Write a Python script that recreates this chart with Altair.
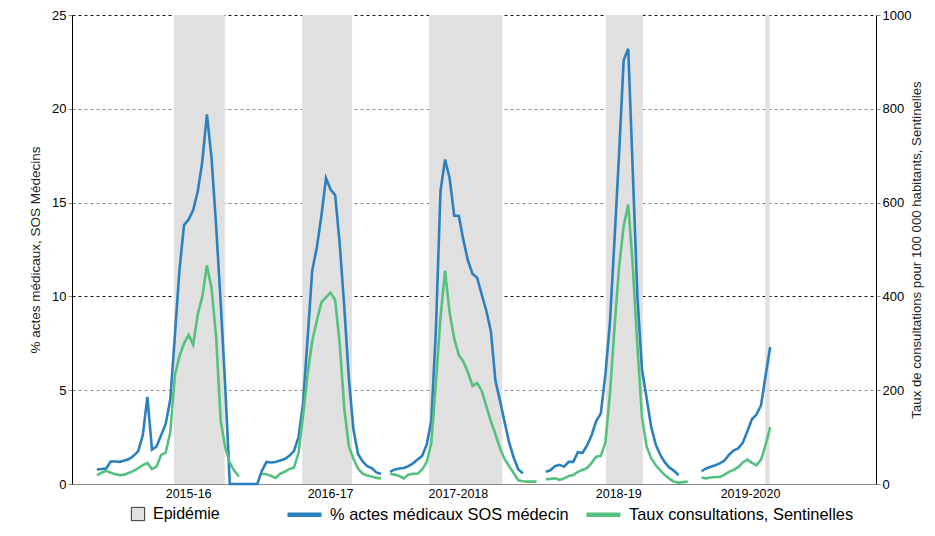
import altair as alt
import pandas as pd

# ---- data (weekly index, one unit = one week) ----
season_labels = ["2015-16", "2016-17", "2017-2018", "2018-19", "2019-2020"]
season_label_week = [19.9, 50.9, 78.8, 113.8, 142.6]

epidemic_start = [16.8, 44.8, 72.5, 111.1, 145.9]
epidemic_end = [27.9, 55.7, 88.5, 119.2, 146.9]

season_first_week = [0, 36, 64, 98, 132]
sos_segment = [0, 0, 1, 2, 3]  # 2015-16 and 2016-17 SOS series are joined by zero weeks

sos_2015_16 = [0.78, 0.80, 0.83, 1.20, 1.20, 1.18, 1.25, 1.33, 1.50, 1.75, 2.60, 4.64,
               1.83, 2.00, 2.60, 3.20, 4.50, 7.90, 11.4, 13.8, 14.1, 14.6, 15.6, 17.2,
               19.7, 17.4, 13.8, 9.7, 5.2, 0, 0, 0, 0, 0, 0, 0]
sos_2016_17 = [0.7, 1.18, 1.15, 1.17, 1.25, 1.33, 1.5, 1.75, 2.5, 4.3, 7.8, 11.4, 12.6,
               14.3, 16.3, 15.7, 15.4, 12.8, 9.4, 5.6, 2.9, 1.6, 1.2, 0.95, 0.85, 0.62, 0.53]
sos_2017_18 = [0.65, 0.78, 0.83, 0.85, 0.95, 1.1, 1.3, 1.5, 2.1, 3.4, 8.2, 15.6, 17.3,
               16.3, 14.3, 14.3, 13.0, 11.9, 11.2, 11.0, 10.1, 9.25, 8.15, 5.5, 4.43,
               3.3, 2.2, 1.4, 0.78, 0.57]
sos_2018_19 = [0.65, 0.73, 0.95, 1.02, 0.92, 1.18, 1.18, 1.7, 1.65, 2.05, 2.6, 3.35,
               3.75, 5.8, 8.6, 13.0, 17.6, 22.6, 23.2, 16.6, 10.0, 6.1, 4.6, 3.05, 2.1,
               1.55, 1.15, 0.87, 0.7, 0.47]
sos_2019_20 = [0.68, 0.83, 0.92, 1.0, 1.1, 1.25, 1.55, 1.78, 1.9, 2.2, 2.8, 3.45, 3.7,
               4.2, 5.8, 7.3]

sent_2015_16 = [19, 24, 28, 24, 21, 19, 20, 24, 28, 34, 40, 45, 32, 37, 62, 67, 110, 232,
                272, 300, 318, 297, 362, 400, 466, 418, 316, 135, 78, 45, 28, 16]
sent_2016_17 = [22, 21, 17, 13, 22, 26, 32, 35, 66, 146, 235, 305, 348, 387, 398, 408,
                392, 300, 160, 80, 54, 33, 22, 18, 16, 13, 12]
sent_2017_18 = [22, 20, 17, 12, 20, 22, 22, 31, 47, 88, 215, 355, 455, 365, 310, 275,
                261, 238, 209, 215, 199, 166, 134, 106, 76, 53, 38, 23, 8, 6, 5, 5, 5]
sent_2018_19 = [10, 11, 12, 9, 12, 17, 19, 26, 30, 34, 45, 58, 60, 88, 191, 333, 463,
                550, 596, 463, 293, 143, 80, 55, 40, 29, 19, 11, 5, 3, 4, 5]
sent_2019_20 = [14, 12, 14, 15, 15, 20, 26, 30, 36, 46, 52, 45, 40, 52, 84, 121]

SOS = "% actes médicaux SOS médecin"
SENT = "Taux consultations, Sentinelles"
EPI = "Epidémie"

sos_lists = [sos_2015_16, sos_2016_17, sos_2017_18, sos_2018_19, sos_2019_20]
sent_lists = [sent_2015_16, sent_2016_17, sent_2017_18, sent_2018_19, sent_2019_20]

sos_rows, sent_rows = [], []
for k in range(5):
    for j, v in enumerate(sos_lists[k]):
        sos_rows.append({"week": season_first_week[k] + j, "value": v,
                         "series": SOS, "segment": sos_segment[k]})
    for j, v in enumerate(sent_lists[k]):
        sent_rows.append({"week": season_first_week[k] + j, "value": v,
                          "series": SENT, "segment": k})
sos_df = pd.DataFrame(sos_rows)
sent_df = pd.DataFrame(sent_rows)
epi_df = pd.DataFrame({"start": epidemic_start, "end": epidemic_end,
                       "label": [EPI] * len(epidemic_start)})

# ---- layout ----
PLOT_W, PLOT_H = 804, 469
PAD = {"left": 64, "top": 7, "right": 51, "bottom": 44}

# ---- scales & axes ----
x_scale = alt.Scale(domain=[-5.46, 170.1], nice=False, zero=False)
label_expr = " : ".join(
    f"datum.value < {p + 5} ? '{s}'" for s, p in zip(season_labels[:-1], season_label_week[:-1])
) + f" : '{season_labels[-1]}'"
x_axis = alt.Axis(values=season_label_week, labelExpr=label_expr, ticks=False, grid=False,
                  domainColor="#8a8a8a", labelFontSize=12.5, labelColor="#000000",
                  labelPadding=3, title=None, labelFlush=False, labelOverlap=False)

grid_color = {"condition": {"test": "datum.value == 10 || datum.value == 25",
                            "value": "#111111"}, "value": "#8c8c8c"}
grid_opacity = {"condition": {"test": "datum.value == 0", "value": 0}, "value": 1}

left_axis = alt.Axis(values=[0, 5, 10, 15, 20, 25], title="% actes médicaux, SOS Médecins",
                     titleFontSize=13.5, titleFontWeight="normal", titleColor="#222222",
                     titlePadding=9, labelFontSize=13, labelColor="#000000", labelPadding=2,
                     tickSize=4, tickColor="#8c8c8c", domainColor="#000000", grid=True,
                     gridDash=[3, 3], gridColor=grid_color, gridOpacity=grid_opacity)
right_axis = alt.Axis(orient="right", values=[0, 200, 400, 600, 800, 1000], format="d",
                      title="Taux de consultations pour 100 000 habitants, Sentinelles",
                      titleFontSize=13.2, titleFontWeight="normal", titleColor="#222222",
                      titleAngle=270, titleBaseline="middle", titleX=40,
                      labelFontSize=13, labelColor="#000000", labelPadding=2,
                      tickSize=4, tickColor="#8c8c8c", domainColor="#000000", grid=False)

color_scale = alt.Scale(domain=[SOS, SENT], range=["#2c80be", "#55c07f"])
line_legend = alt.Legend(title=None, orient="none", legendX=213, legendY=480,
                         direction="horizontal", symbolType="stroke", symbolSize=1156,
                         symbolStrokeWidth=4.5, labelFontSize=16.4, labelColor="#000000",
                         labelOffset=6, labelLimit=400)
epi_legend = alt.Legend(title=None, orient="none", legendX=58, legendY=491,
                        symbolType="square", symbolSize=177, symbolStrokeColor="#333333",
                        symbolStrokeWidth=1, labelFontSize=16, labelColor="#000000",
                        labelOffset=7, labelLimit=400)

bands = alt.Chart(epi_df).mark_rect().encode(
    x=alt.X("start:Q", scale=x_scale, axis=x_axis),
    x2="end:Q",
    fill=alt.Fill("label:N", scale=alt.Scale(domain=[EPI], range=["#e0e0e0"]),
                  legend=epi_legend),
)

sos_line = alt.Chart(sos_df).mark_line(strokeWidth=2.6).encode(
    x=alt.X("week:Q", scale=x_scale, axis=x_axis),
    y=alt.Y("value:Q", scale=alt.Scale(domain=[0, 25], nice=False), axis=left_axis),
    detail="segment:N",
    color=alt.Color("series:N", scale=color_scale, legend=line_legend),
)

sent_line = alt.Chart(sent_df).mark_line(strokeWidth=2.6).encode(
    x=alt.X("week:Q", scale=x_scale, axis=x_axis),
    y=alt.Y("value:Q", scale=alt.Scale(domain=[0, 1000], nice=False), axis=right_axis),
    detail="segment:N",
    color=alt.Color("series:N", scale=color_scale, legend=line_legend),
)

chart = alt.layer(bands, sos_line, sent_line).resolve_scale(
    y="independent"
).properties(
    width=PLOT_W, height=PLOT_H,
    autosize=alt.AutoSizeParams(type="none"),
    padding=PAD,
).configure(
    font="Liberation Sans"
).configure_view(stroke=None).configure_legend(columnPadding=8, padding=0)

chart.save("out.html", embed_options={"renderer": "svg", "actions": False})
